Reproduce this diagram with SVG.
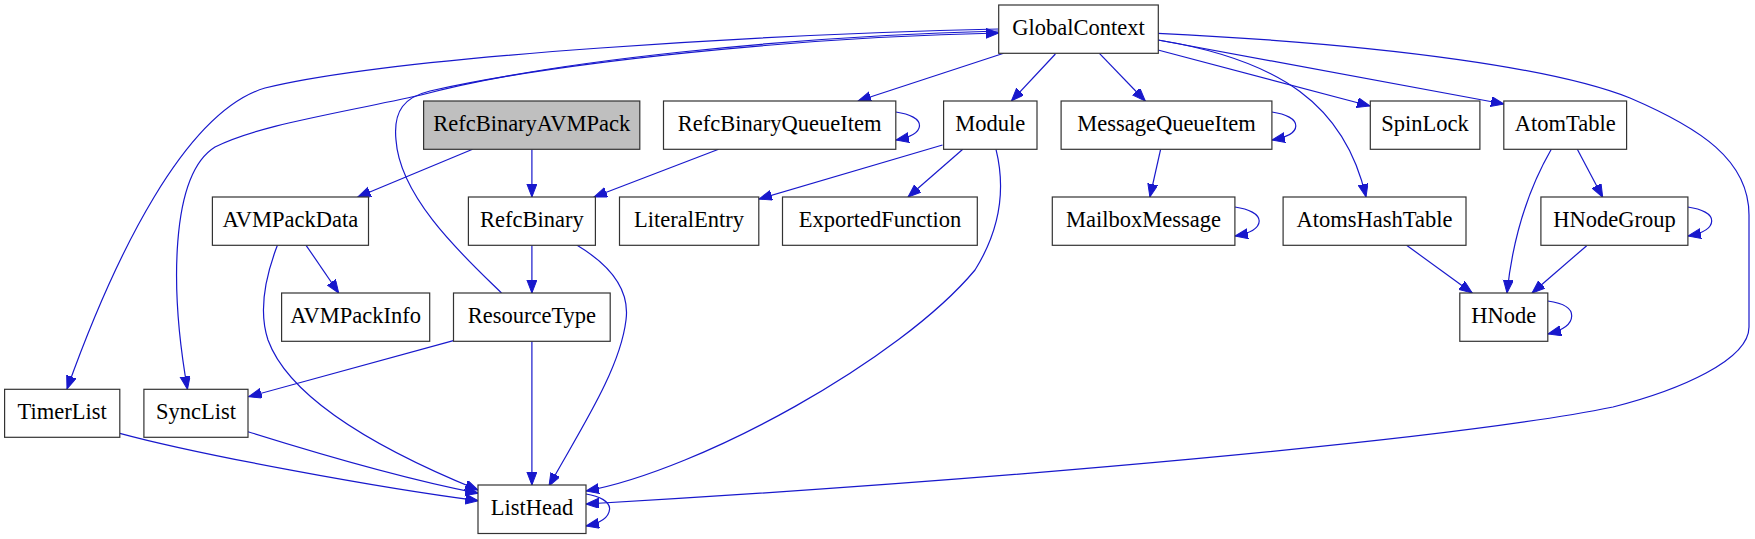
<svg xmlns="http://www.w3.org/2000/svg" width="1755" height="539" viewBox="0 0 1755 539">
<style>
.n rect{fill:#ffffff;stroke:#333333;stroke-width:1.2}
.n.hl rect{fill:#bfbfbf}
.n text{font-family:"Liberation Serif","Times New Roman",serif;font-size:22.5px;fill:#000;text-anchor:middle}
#edges path{fill:none;stroke:#1818cc;stroke-width:1.2;marker-end:url(#arr)}
</style>
<defs>
<marker id="arr" markerUnits="userSpaceOnUse" markerWidth="14" markerHeight="11" refX="13" refY="5" orient="auto">
<path d="M0,0 L13,5 L0,10 z" fill="#1818cc" stroke="#1818cc" stroke-width="1"/>
</marker>
</defs>
<rect width="1755" height="539" fill="#ffffff"/>
<g id="edges">
<path d="M472.6,149.3 L357.8,197"/>
<path d="M531.9,149.3 L531.9,197"/>
<path d="M718.6,149.3 L594,197"/>
<path d="M895.8,112 C910,114 920,119 919.5,126 C919,132 912,137 896,140"/>
<path d="M1003.7,53.3 L858,101"/>
<path d="M1055.4,54 L1011.4,101"/>
<path d="M1099.4,53.3 L1145.3,101"/>
<path d="M1158,50 L1370,106"/>
<path d="M1158,40 L1504,104"/>
<path d="M1158,40 C1280,60 1345,105 1366,197"/>
<path d="M1158,33.3 C1400,45 1560,70 1630,98 C1700,128 1749,160 1749,215 L1749,327 C1749,360 1680,390 1613,407 C1450,440 1000,480 586,504"/>
<path d="M998.7,29 C780,34 400,55 265,88 C185,112 115,255 67,389"/>
<path d="M998.7,31 C800,36 550,60 421,95 C330,115 260,125 215,147 C170,175 170,290 187.5,389.3"/>
<path d="M501.5,293 C470,262 400,200 396,140 C393,110 405,97 430,91 C560,62 800,37 998.7,33"/>
<path d="M942.5,145 L759,199"/>
<path d="M962.8,149.3 L908,197"/>
<path d="M996,149.3 C1006,190 1000,230 975,270 C900,360 700,470 586,491"/>
<path d="M1160.6,149.3 L1149.9,197"/>
<path d="M1271.9,112 C1286,114 1296,119 1295.8,126 C1295.5,133 1288,137 1272,140"/>
<path d="M1234.9,207 C1249,209 1259,214 1259.2,221 C1259,228 1252,233 1235,236"/>
<path d="M1577.3,149.3 L1602.7,197.3"/>
<path d="M1551.3,149.3 C1525,195 1512,245 1507,293"/>
<path d="M1406.6,245.3 L1472.2,293"/>
<path d="M1586.7,245.7 L1532,293"/>
<path d="M1687.7,207 C1702,209 1712,214 1711.7,221 C1711.5,228 1704,233 1688,236"/>
<path d="M1547.8,301 C1562,303 1572,308 1571.7,316 C1571.5,324 1564,330 1548,334"/>
<path d="M306.1,245.3 L338.7,293"/>
<path d="M277.4,245.3 C266,275 258,310 268,340 C290,400 380,450 478,490"/>
<path d="M531.9,245.3 L531.9,293"/>
<path d="M576.7,245 C610,265 630,290 626,320 C620,370 580,430 549,486"/>
<path d="M453.4,340.7 L248.7,396.7"/>
<path d="M531.9,341 L531.9,485"/>
<path d="M119.8,433.3 C200,455 380,488 478.3,500.7"/>
<path d="M248,431.7 C300,448 400,478 478.3,493.3"/>
<path d="M586,494 C600,496 610,502 609.6,509 C609,517 601,523 586,526"/>
</g>
<g id="GlobalContext" class="n"><rect x="998.7" y="5" width="159.6" height="48.3"/><text x="1078.5" y="35.2">GlobalContext</text></g>
<g id="RefcBinaryAVMPack" class="n hl"><rect x="423.6" y="101" width="216.2" height="48.3"/><text x="531.7" y="131.2">RefcBinaryAVMPack</text></g>
<g id="RefcBinaryQueueItem" class="n"><rect x="663.5" y="101" width="232.3" height="48.3"/><text x="779.6" y="131.2">RefcBinaryQueueItem</text></g>
<g id="Module" class="n"><rect x="943.6" y="101" width="93.4" height="48.3"/><text x="990.3" y="131.2">Module</text></g>
<g id="MessageQueueItem" class="n"><rect x="1061.1" y="101" width="210.8" height="48.3"/><text x="1166.5" y="131.2">MessageQueueItem</text></g>
<g id="SpinLock" class="n"><rect x="1370.3" y="101" width="109.6" height="48.3"/><text x="1425.1" y="131.2">SpinLock</text></g>
<g id="AtomTable" class="n"><rect x="1503.8" y="101" width="122.8" height="48.3"/><text x="1565.2" y="131.2">AtomTable</text></g>
<g id="AVMPackData" class="n"><rect x="212.4" y="197" width="156.1" height="48.3"/><text x="290.4" y="227.2">AVMPackData</text></g>
<g id="RefcBinary" class="n"><rect x="468.4" y="197" width="127" height="48.3"/><text x="531.9" y="227.2">RefcBinary</text></g>
<g id="LiteralEntry" class="n"><rect x="619.5" y="197" width="139.3" height="48.3"/><text x="689.1" y="227.2">LiteralEntry</text></g>
<g id="ExportedFunction" class="n"><rect x="782.5" y="197" width="194.8" height="48.3"/><text x="879.9" y="227.2">ExportedFunction</text></g>
<g id="MailboxMessage" class="n"><rect x="1052.3" y="197" width="182.6" height="48.3"/><text x="1143.6" y="227.2">MailboxMessage</text></g>
<g id="AtomsHashTable" class="n"><rect x="1283.1" y="197" width="182.9" height="48.3"/><text x="1374.5" y="227.2">AtomsHashTable</text></g>
<g id="HNodeGroup" class="n"><rect x="1540.9" y="197" width="147" height="48.3"/><text x="1614.4" y="227.2">HNodeGroup</text></g>
<g id="AVMPackInfo" class="n"><rect x="281.6" y="293" width="148.1" height="48.3"/><text x="355.6" y="323.2">AVMPackInfo</text></g>
<g id="ResourceType" class="n"><rect x="453.5" y="293" width="156.7" height="48.3"/><text x="531.9" y="323.2">ResourceType</text></g>
<g id="HNode" class="n"><rect x="1459.8" y="293" width="88" height="48.3"/><text x="1503.8" y="323.2">HNode</text></g>
<g id="TimerList" class="n"><rect x="4.6" y="389.3" width="115.2" height="48"/><text x="62.2" y="419.4">TimerList</text></g>
<g id="SyncList" class="n"><rect x="143.9" y="389.3" width="104.1" height="48"/><text x="196" y="419.4">SyncList</text></g>
<g id="ListHead" class="n"><rect x="478" y="485" width="108" height="48.5"/><text x="532" y="515.2">ListHead</text></g>
</svg>
